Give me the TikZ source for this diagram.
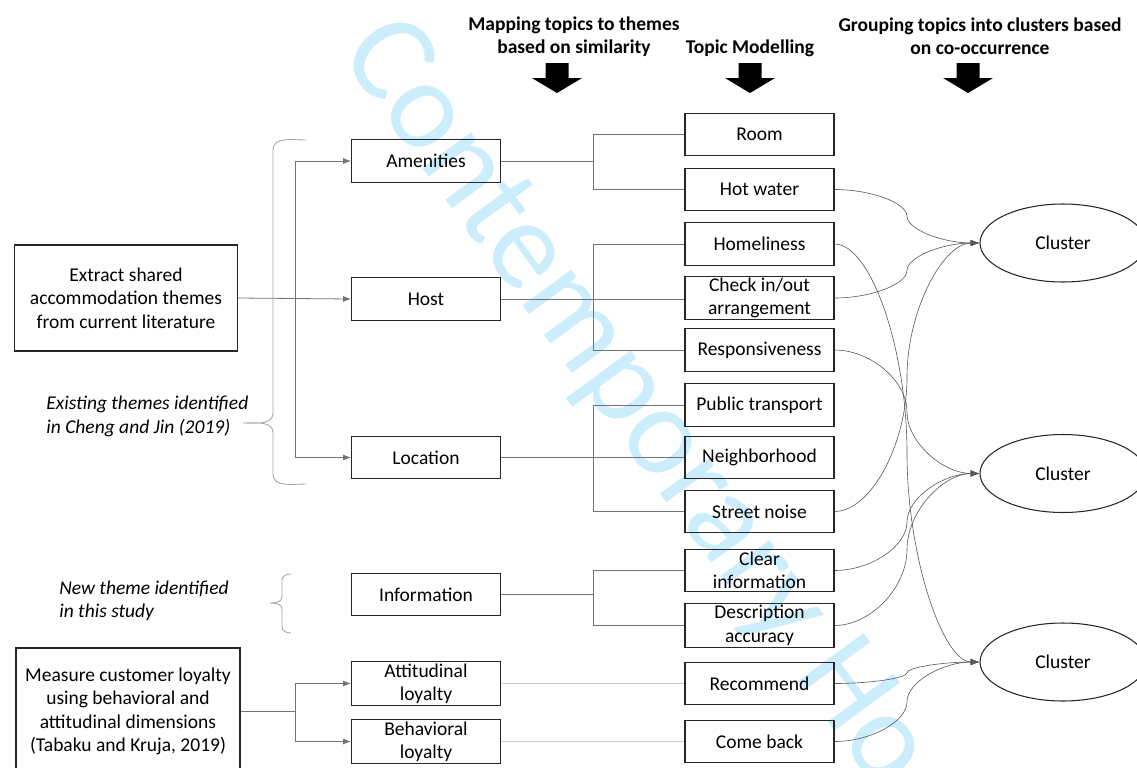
\documentclass[tikz,border=0pt]{standalone}
\usepackage{fontspec}
\setmainfont{Carlito}
\usetikzlibrary{arrows.meta,calc,shapes.geometric}

\definecolor{wmblue}{RGB}{204,237,251}

\begin{document}
\begin{tikzpicture}[x=0.02cm,y=-0.02cm,
		every node/.style={font=\fontsize{11.1}{13.3}\selectfont},
		box/.style={draw=black!85, line width=0.6pt, minimum width=2.98cm, minimum height=0.85cm, inner sep=1pt, align=center},
		cluster/.style={draw=black!85, line width=0.6pt, ellipse, minimum width=3.32cm, minimum height=1.56cm},
		head/.style={font=\fontsize{11.1}{13.3}\selectfont\bfseries, align=center},
		note/.style={font=\fontsize{11.1}{13.3}\selectfont\itshape, align=left, anchor=west, inner sep=0},
		link/.style={draw=black!55, line width=0.45pt},
		faint/.style={draw=black!20, line width=0.45pt},
		brace/.style={draw=black!35, line width=0.5pt},
		curve/.style={draw=black!65, line width=0.35pt, -{Latex[length=5pt,width=3.6pt]}},
		>={Latex[length=4.5pt,width=3.4pt]}]
	
	\useasboundingbox (0,0) rectangle (1137,768);
	\clip (0,0) rectangle (1137,768);
	
	% watermark
	\node[text=wmblue, font=\fontsize{72}{72}\selectfont, anchor=base west, rotate=-53.8, inner sep=0] (wm) at (338,53) {Contemporary Hospitality};
	
	% headings
	\node[head] (hmap) at (574,36.5) {Mapping topics to themes\\based on similarity};
	\node[head] (htopic) at (750,48) {Topic Modelling};
	\node[head] (hgroup) at (980,36.5) {Grouping topics into clusters based\\on co-occurrence};
	\foreach \x in {557,750,968}
		\fill ({\x-11.5},63) -- ({\x+11.5},63) -- ({\x+11.5},78) -- ({\x+25},78) -- (\x,93) -- ({\x-25},78) -- ({\x-11.5},78) -- cycle;
	
	% sources
	\node[box, minimum width=4.46cm, minimum height=2.12cm] (extract) at (126,298) {Extract shared\\accommodation themes\\from current literature};
	\node[box, minimum width=4.48cm, minimum height=2.54cm] (measure) at (128,711.5) {Measure customer loyalty\\using behavioral and\\attitudinal dimensions\\(Tabaku and Kruja, 2019)};
	
	% themes
	\node[box] (amen) at (426,161) {Amenities};
	\node[box] (host) at (426,299) {Host};
	\node[box] (loc) at (426,457.5) {Location};
	\node[box] (info) at (426,594.5) {Information};
	\node[box] (att) at (426,683.5) {Attitudinal\\loyalty};
	\node[box] (beh) at (426,741.5) {Behavioral\\loyalty};
	
	% topics
	\node[box] (room) at (759.5,134.5) {Room};
	\node[box] (hotw) at (759.5,189.5) {Hot water};
	\node[box] (home) at (759.5,244) {Homeliness};
	\node[box] (check) at (759.5,298) {Check in/out\\arrangement};
	\node[box] (resp) at (759.5,350) {Responsiveness};
	\node[box] (pub) at (759.5,405) {Public transport};
	\node[box] (neigh) at (759.5,457.5) {Neighborhood};
	\node[box] (noise) at (759.5,511.5) {Street noise};
	\node[box] (clear) at (759.5,570.5) {Clear\\information};
	\node[box] (desc) at (759.5,625.5) {Description\\accuracy};
	\node[box] (rec) at (759.5,683.5) {Recommend};
	\node[box] (back) at (759.5,741.5) {Come back};
	
	% clusters
	\node[cluster] (c1) at (1063,243) {Cluster};
	\node[cluster] (c2) at (1063,473.5) {Cluster};
	\node[cluster] (c3) at (1063,662) {Cluster};
	
	% notes and braces
	\node[note] (note1) at (46,416.5) {Existing themes identified\\in Cheng and Jin (2019)};
	\node[note] (note2) at (59,601) {New theme identified\\in this study};
	\draw[brace] (306,140) to[out=180,in=90] (273,150) -- (273,413) to[out=-90,in=0] (243,423)
		to[out=0,in=90] (273,433) -- (273,474) to[out=-90,in=180] (306,484);
	\draw[brace] (291,574) to[out=180,in=90] (282,580) -- (282,597) to[out=-90,in=0] (270,603)
		to[out=0,in=90] (282,609) -- (282,627) to[out=-90,in=180] (291,633);
	
	% sources to themes
	\draw[link,->] (extract.east) -- (host.west);
	\draw[link,->] (extract.east) ++(57,0) |- (amen.west);
	\draw[link,->] (extract.east) ++(57,0) |- (loc.west);
	\draw[link,->] (measure.east) -- ++(55,0) |- (att.west);
	\draw[link,->] (measure.east) ++(55,0) |- (beh.west);
	
	% themes to topics
	\draw[link] (amen.east) -- ++(92,0) |- (room.west) (amen.east) ++(92,0) |- (hotw.west);
	\draw[link] (host.east) -- (host.east -| check.west) (host.east) ++(92,0) |- (home.west) (host.east) ++(92,0) |- (resp.west);
	\draw[link] (loc.east) -- (loc.east -| neigh.west) (loc.east) ++(92,0) |- (pub.west) (loc.east) ++(92,0) |- (noise.west);
	\draw[link] (info.east) -- ++(92,0) |- (clear.west) (info.east) ++(92,0) |- (desc.west);
	\draw[faint] (att) -- (rec);
	\draw[faint] (beh) -- (back);
	
	% topics to clusters
	\foreach \s/\t in {hotw/c1, check/c1, noise/c1, home/c3, resp/c2, clear/c2, desc/c2, rec/c3, back/c3}{
		\path (\s.east) coordinate (p) (\t.west) coordinate (q)
			($(p)!.25!(q)$) coordinate (qa) ($(p)!.5!(q)$) coordinate (m) ($(p)!.75!(q)$) coordinate (qb);
		\draw[curve] (\s.east) .. controls (qa |- p) and (m |- qa) .. (m) .. controls (m |- qb) and (qb |- q) .. (\t.west);
	}
\end{tikzpicture}
\end{document}
